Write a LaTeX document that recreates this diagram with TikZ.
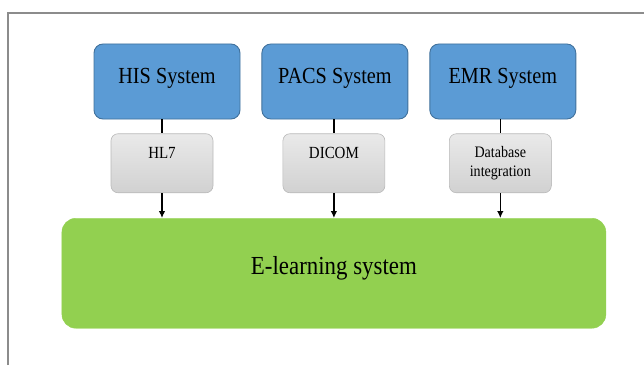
\documentclass[tikz,border=0pt]{standalone}
\usepackage{fontspec}
\setmainfont{Liberation Serif}[FakeStretch=0.88]
\usepackage{xcolor}
\usepackage{tikz}
\usetikzlibrary{positioning, arrows.meta}

\definecolor{sysblue}{HTML}{5B9BD5}
\definecolor{sysborder}{HTML}{41719C}
\definecolor{elgreen}{HTML}{92D050}
\definecolor{framegray}{HTML}{8C8C8C}

\begin{document}
\begin{tikzpicture}[x=1pt, y=1pt, node distance=21pt,
  system node/.style={rectangle, rounded corners=9pt, draw=sysborder, line width=0.9pt, fill=sysblue, minimum width=146pt, minimum height=75pt, text height=16pt, text depth=13pt, font=\fontsize{23}{27}\selectfont},
  protocol node/.style={rectangle, rounded corners=7pt, draw=gray!55, line width=0.6pt, top color=gray!17, bottom color=gray!36, minimum width=102pt, minimum height=59pt, align=center, font=\fontsize{17}{19}\selectfont},
  one line/.style={text height=12pt, text depth=21pt},
  target node/.style={rectangle, rounded corners=14pt, draw=elgreen, fill=elgreen, minimum width=544pt, minimum height=110pt, text height=18pt, text depth=16pt, font=\fontsize{26}{30}\selectfont}]

		\useasboundingbox (0,0) rectangle (644,365);

		% Frame
		\draw[framegray, line width=2pt] (7.5,0) -- (7.5,352) -- (644,352);

		% Nodes
		\node[system node] (his) at (167,283.5) {HIS System};
		\node[system node] (pacs) [right=of his] {PACS System};
		\node[system node] (emr) [right=of pacs] {EMR System};
		\node[protocol node, one line] (hl7) [below=14pt of his, xshift=-5pt] {HL7};
		\node[protocol node, one line] (dicom) [below=14pt of pacs, xshift=-1pt] {DICOM};
		\node[protocol node, font=\fontsize{16}{18.6}\selectfont] (dbint) [below=14pt of emr, xshift=-2.5pt] {Database\\integration};
		\node[target node] (elearn) [below=25pt of dicom] {E-learning system};

		% Edges (connections)
		\path[draw, line width=1.3pt]
		(hl7.north |- his.south) edge (hl7.north)
		(dicom.north |- pacs.south) edge (dicom.north)
		(dbint.north |- emr.south) edge (dbint.north)
		(hl7.south) edge[-{Latex[length=7pt,width=6.5pt]}] (hl7.south |- elearn.north)
		(dicom.south) edge[-{Latex[length=7pt,width=6.5pt]}] (dicom.south |- elearn.north)
		(dbint.south) edge[-{Latex[length=7pt,width=6.5pt]}] (dbint.south |- elearn.north);
	\end{tikzpicture}
\end{document}
